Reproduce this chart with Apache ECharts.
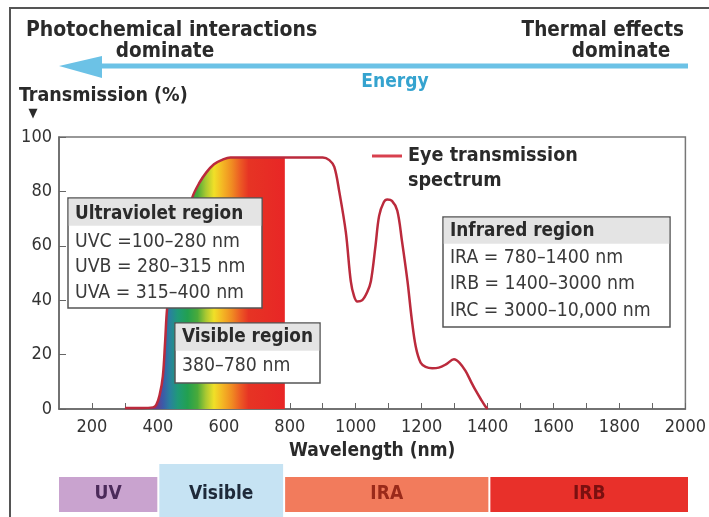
<!DOCTYPE html>
<html><head><meta charset="utf-8">
<script src="https://cdn.jsdelivr.net/npm/echarts@6/dist/echarts.min.js"></script>
<style>html,body{margin:0;padding:0;background:#fff}#c{width:709px;height:517px}</style>
</head><body><div id="c"></div>
<script>
// ---- data ----
const wavelength = [300, 350, 385, 395, 405, 415, 422, 428, 440, 455, 475, 505, 525, 547, 570, 593, 620, 700, 785, 850, 900, 920, 935, 950, 970, 985, 995, 1005, 1020, 1035, 1046, 1060, 1071, 1085, 1096, 1110, 1126, 1140, 1157, 1170, 1182, 1197, 1212, 1232, 1252, 1275, 1298, 1315, 1333, 1350, 1363, 1380, 1393, 1400];
const transmission = [0.4, 0.4, 0.6, 1.5, 5, 12, 25, 37, 47, 56, 65, 78, 83, 87, 90, 91.5, 92.5, 92.5, 92.5, 92.5, 92.5, 91.5, 89, 80, 65, 47, 41.5, 39.5, 40, 43, 47, 60, 71, 76, 77, 76.5, 73, 62, 47, 33, 23, 17, 15.5, 15, 15.2, 16.5, 18.3, 17, 14, 10, 7, 3.5, 1, 0];
const visibleFillEnd = 785;
const xTickLabels = [200, 400, 600, 800, 1000, 1200, 1400, 1600, 1800, 2000];
const yTickLabels = [0, 20, 40, 60, 80, 100];
const spectrumNm = [395, 415, 435, 460, 490, 520, 545, 570, 595, 625, 650, 675, 785];
const spectrumColors = ['#6a3c8c', '#3c5aa8', '#2a7fa0', '#1f9a78', '#22a050', '#4aaa3a', '#a8c832', '#f0e028', '#f4b824', '#f08a22', '#ec5a24', '#e63424', '#e82626'];
const bandNames = ['UV', 'Visible', 'IRA', 'IRB'];
const bandStart = [100, 400, 780, 1400];
const bandEnd = [400, 780, 1400, 2000];
const uvLines = ['Ultraviolet region', 'UVC =100\u2013280 nm', 'UVB = 280\u2013315 nm', 'UVA = 315\u2013400 nm'];
const visLines = ['Visible region', '380\u2013780 nm'];
const irLines = ['Infrared region', 'IRA = 780\u20131400 nm', 'IRB = 1400\u20133000 nm', 'IRC = 3000\u201310,000 nm'];

// ---- styles ----
const FONT = "'DejaVu Sans Condensed','Liberation Sans Narrow','Open Sans',sans-serif";
const bandFill = ['#c9a3cf', '#c6e3f3', '#f27b5c', '#e8302a'];
const bandText = ['#4b2a5a', '#1e2a3a', '#9a2a1a', '#7a1010'];

const curve = wavelength.map((w, i) => [w, transmission[i]]);
const fillPts = curve.filter(p => p[0] <= visibleFillEnd);
const fx0 = fillPts[0][0], fx1 = fillPts[fillPts.length - 1][0];
const stops = spectrumNm.map((nm, i) => ({ offset: Math.min(1, Math.max(0, (nm - fx0) / (fx1 - fx0))), color: spectrumColors[i] }));

function box(x, y, w, h, hh, lines, lineY) {
  const ch = [
    { type: 'rect', z: 100, shape: { x: x, y: y, width: w, height: h }, style: { fill: '#fff', stroke: '#555', lineWidth: 1.5 } },
    { type: 'rect', z: 101, shape: { x: x + 0.75, y: y + 0.75, width: w - 1.5, height: hh }, style: { fill: '#e4e4e4' } }
  ];
  lines.forEach((t, i) => ch.push({ type: 'text', z: 102, x: x + 7, y: y + lineY[i], style: { text: t, font: (i === 0 ? 'bold 18.8px ' : '19.3px ') + FONT, fill: i === 0 ? '#2a2a2a' : '#3a3a3a', textVerticalAlign: 'middle' } }));
  return ch;
}

const chart = echarts.init(document.getElementById('c'));
chart.setOption({
  animation: false,
  backgroundColor: '#fff',
  grid: [
    { left: 59, right: 21, top: 137, bottom: 108, show: true, borderColor: '#777', borderWidth: 1.5, backgroundColor: 'transparent' },
    { left: 59, right: 21, top: 464, height: 53 }
  ],
  xAxis: [
    { type: 'value', gridIndex: 0, min: 100, max: 2000, interval: 100,
      axisLine: { lineStyle: { color: '#666', width: 1.5 } },
      axisTick: { inside: true, length: 6, lineStyle: { color: '#666' } },
      splitLine: { show: false },
      axisLabel: { margin: 9, color: '#333', fontSize: 18, fontFamily: FONT, showMinLabel: false,
        formatter: v => xTickLabels.indexOf(v) >= 0 ? String(v) : '' },
      name: 'Wavelength (nm)', nameLocation: 'middle', nameGap: 33,
      nameTextStyle: { color: '#2a2a2a', fontSize: 19, fontWeight: 'bold', fontFamily: FONT } },
    { type: 'value', gridIndex: 1, min: 100, max: 2000, show: false }
  ],
  yAxis: [
    { type: 'value', gridIndex: 0, min: 0, max: 100, interval: 20,
      axisLine: { show: true, lineStyle: { color: '#666', width: 1.5 } },
      axisTick: { show: true, inside: true, length: 7, lineStyle: { color: '#666' } },
      splitLine: { show: false },
      axisLabel: { margin: 7, color: '#333', fontSize: 18, fontFamily: FONT,
        formatter: v => yTickLabels.indexOf(v) >= 0 ? String(v) : '' } },
    { type: 'value', gridIndex: 1, min: 0, max: 1, show: false }
  ],
  series: [
    { type: 'line', name: 'fill', xAxisIndex: 0, yAxisIndex: 0, data: fillPts, smooth: 0.35,
      symbol: 'none', lineStyle: { width: 0 }, silent: true, z: 1,
      areaStyle: { opacity: 1, color: new echarts.graphic.LinearGradient(0, 0, 1, 0, stops) } },
    { type: 'line', name: 'Eye transmission spectrum', xAxisIndex: 0, yAxisIndex: 0, data: curve, smooth: 0.35,
      symbol: 'none', lineStyle: { color: '#bb2a3c', width: 2.5 }, z: 3 },
    { type: 'custom', xAxisIndex: 1, yAxisIndex: 1, silent: true,
      data: bandNames.map((n, i) => [bandStart[i], bandEnd[i], i]),
      renderItem: function (params, api) {
        const i = api.value(2);
        const a = api.coord([api.value(0), 0]);
        const b = api.coord([api.value(1), 0]);
        const cs = params.coordSys;
        const tall = bandNames[i] === 'Visible';
        const y0 = tall ? cs.y : cs.y + 13;
        const h = tall ? cs.height : 35;
        const x0 = a[0] + (i === 0 ? 0 : 1), x1 = b[0] - (i === bandNames.length - 1 ? 0 : 1);
        return { type: 'group', children: [
          { type: 'rect', shape: { x: x0, y: y0, width: x1 - x0, height: h }, style: { fill: bandFill[i] } },
          { type: 'text', x: (x0 + x1) / 2, y: cs.y + 30.5, style: { text: bandNames[i], font: 'bold 19px ' + FONT, fill: bandText[i], textAlign: 'center', textVerticalAlign: 'middle' } }
        ] };
      } }
  ],
  graphic: { zlevel: 1, elements: [
    { type: 'rect', shape: { x: 10, y: 8, width: 760, height: 560 }, style: { fill: 'none', stroke: '#555', lineWidth: 2 }, silent: true },
    { type: 'text', x: 26, y: 31, style: { text: 'Photochemical interactions', font: 'bold 21px ' + FONT, fill: '#2a2a2a', textVerticalAlign: 'middle' } },
    { type: 'text', x: 165, y: 52, style: { text: 'dominate', font: 'bold 20.5px ' + FONT, fill: '#2a2a2a', textAlign: 'center', textVerticalAlign: 'middle' } },
    { type: 'text', x: 684, y: 31, style: { text: 'Thermal effects', font: 'bold 20.5px ' + FONT, fill: '#2a2a2a', textAlign: 'right', textVerticalAlign: 'middle' } },
    { type: 'text', x: 621, y: 52, style: { text: 'dominate', font: 'bold 20.5px ' + FONT, fill: '#2a2a2a', textAlign: 'center', textVerticalAlign: 'middle' } },
    { type: 'rect', shape: { x: 100, y: 63.5, width: 588, height: 5 }, style: { fill: '#6cc2e6' } },
    { type: 'polygon', shape: { points: [[59, 66], [102, 56], [102, 78]] }, style: { fill: '#6cc2e6' } },
    { type: 'text', x: 395, y: 82, style: { text: 'Energy', font: 'bold 19px ' + FONT, fill: '#35a3cf', textAlign: 'center', textVerticalAlign: 'middle' } },
    { type: 'text', x: 19, y: 96, style: { text: 'Transmission (%)', font: 'bold 19.5px ' + FONT, fill: '#2a2a2a', textVerticalAlign: 'middle' } },
    { type: 'text', x: 33, y: 114, style: { text: '\u25BC', font: '13px ' + FONT, fill: '#2a2a2a', textAlign: 'center', textVerticalAlign: 'middle' } },
    { type: 'line', shape: { x1: 372, y1: 156, x2: 402, y2: 156 }, style: { stroke: '#d8404e', lineWidth: 3 } },
    { type: 'text', x: 408, y: 156, style: { text: 'Eye transmission', font: 'bold 19.6px ' + FONT, fill: '#2a2a2a', textVerticalAlign: 'middle' } },
    { type: 'text', x: 408, y: 181, style: { text: 'spectrum', font: 'bold 19.6px ' + FONT, fill: '#2a2a2a', textVerticalAlign: 'middle' } }
  ].concat(box(68, 198, 194, 110, 27, uvLines, [16, 44, 69, 95]))
   .concat(box(175, 323, 145, 60, 27, visLines, [14, 43]))
   .concat(box(443, 217, 227, 110, 26, irLines, [14, 41, 67, 94])) }
});
</script>
</body></html>
